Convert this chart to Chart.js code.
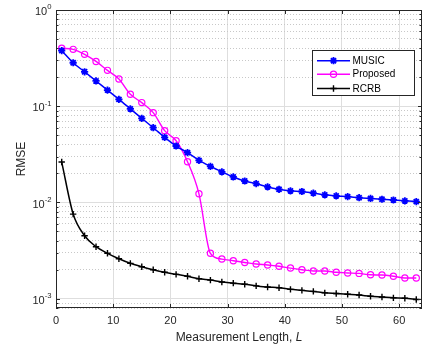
<!DOCTYPE html>
<html><head><meta charset="utf-8">
<script src="https://cdn.jsdelivr.net/npm/chart.js@4/dist/chart.umd.min.js"></script>
<style>html,body{margin:0;padding:0;background:#fff;}canvas{display:block}</style>
</head><body>
<canvas id="c" width="437" height="349"></canvas>
<script>
const L = [1,3,5,7,9,11,13,15,17,19,21,23,25,27,29,31,33,35,37,39,41,43,45,47,49,51,53,55,57,59,61,63];
const music = [0.378,0.283,0.228,0.183,0.147,0.118,0.094,0.0748,0.0598,0.0475,0.0386,0.0329,0.0274,0.0237,0.0208,0.0184,0.0167,0.0157,0.0145,0.0137,0.0132,0.0130,0.0125,0.0120,0.0117,0.0115,0.0112,0.0110,0.0108,0.0106,0.0104,0.0102];
const proposed = [0.40,0.39,0.346,0.292,0.236,0.192,0.133,0.109,0.0857,0.0557,0.0438,0.0265,0.0123,0.00296,0.00258,0.00248,0.00238,0.00229,0.00224,0.00217,0.00208,0.00200,0.00194,0.00194,0.00188,0.00185,0.00183,0.00177,0.00176,0.00171,0.00164,0.00164];
const rcrb = [0.0263,0.00757,0.00451,0.00347,0.00296,0.0026,0.00233,0.00215,0.0020,0.00188,0.00179,0.00171,0.00161,0.00156,0.00149,0.00145,0.00141,0.00136,0.00132,0.0013,0.00125,0.00122,0.00119,0.00115,0.00113,0.00111,0.00109,0.00106,0.00104,0.00102,0.00101,0.00098];
const seriesNames = ['MUSIC','Proposed','RCRB'];
const xTickValues = [0,10,20,30,40,50,60];
const yDecadeExponents = [0,-1,-2,-3];
const xTitleMain = 'Measurement Length, ';
const xTitleVar = 'L';
const yTitle = 'RMSE';

const AX = '#262626';
const FONT = '"Liberation Sans", Arial, Helvetica, sans-serif';
const isDecade = v => Math.abs(Math.log10(v) - Math.round(Math.log10(v))) < 1e-6;

function pts(arr){ return L.map((l,i)=>({x:l,y:arr[i]})); }

const decor = {
  id:'decor',
  afterDatasetsDraw(chart){
    const {ctx, chartArea:a, scales:{x,y}} = chart;
    ctx.save();
    // box
    ctx.strokeStyle = AX; ctx.lineWidth = 1;
    ctx.strokeRect(a.left+0.5, a.top+0.5, a.right-a.left-1, a.bottom-a.top-1);
    ctx.beginPath();
    xTickValues.forEach(v=>{
      const px = Math.round(x.getPixelForValue(v))+0.5;
      ctx.moveTo(px,a.bottom); ctx.lineTo(px,a.bottom-4);
      ctx.moveTo(px,a.top); ctx.lineTo(px,a.top+4);
    });
    y.ticks.forEach(t=>{
      const py = Math.round(y.getPixelForValue(t.value))+0.5;
      const len = isDecade(t.value)?4:2.5;
      ctx.moveTo(a.left,py); ctx.lineTo(a.left+len,py);
      ctx.moveTo(a.right,py); ctx.lineTo(a.right-len,py);
    });
    ctx.stroke();
    // y tick labels with superscripts
    ctx.fillStyle = AX;
    ctx.textBaseline = 'middle';
    ctx.textAlign = 'left';
    yDecadeExponents.forEach(e=>{
      const py = y.getPixelForValue(Math.pow(10,e));
      const expStr = String(e);
      ctx.font = '7.7px '+FONT;
      const ew = ctx.measureText(expStr).width;
      ctx.font = '11px '+FONT;
      const bw = ctx.measureText('10').width;
      const xEnd = a.left - 4.5;
      ctx.fillText('10', xEnd-ew-bw, py+2.2);
      ctx.font = '7.7px '+FONT;
      ctx.fillText(expStr, xEnd-ew, py-2.8);
    });
    // x title
    ctx.font = '12px '+FONT;
    const w1 = ctx.measureText(xTitleMain).width;
    ctx.font = 'italic 12px '+FONT;
    const w2 = ctx.measureText(xTitleVar).width;
    const cx = (a.left+a.right)/2;
    let sx = cx-(w1+w2)/2;
    ctx.font = '12px '+FONT;
    ctx.fillText(xTitleMain, sx, 337.5);
    ctx.font = 'italic 12px '+FONT;
    ctx.fillText(xTitleVar, sx+w1, 337.5);
    // legend
    const lx=312.5, ly=50.5, lw=102, lh=45;
    ctx.fillStyle='#fff'; ctx.fillRect(lx,ly,lw,lh);
    ctx.strokeStyle=AX; ctx.lineWidth=1; ctx.strokeRect(lx,ly,lw,lh);
    const rows=[60.7,74.2,88.5];
    chart.data.datasets.forEach((ds,i)=>{
      const yy=rows[i];
      ctx.strokeStyle=ds.borderColor; ctx.lineWidth=ds.borderWidth;
      ctx.beginPath(); ctx.moveTo(317,yy); ctx.lineTo(350,yy); ctx.stroke();
      ctx.strokeStyle=ds.pointBorderColor; ctx.fillStyle=ds.pointBackgroundColor;
      ctx.lineWidth=ds.pointBorderWidth;
      Chart.helpers.drawPoint(ctx,{pointStyle:ds.pointStyle,radius:ds.pointRadius,borderWidth:ds.pointBorderWidth,rotation:0},333.5,yy);
      ctx.fillStyle='#000';
      ctx.font='10px '+FONT; ctx.textAlign='left'; ctx.textBaseline='middle';
      ctx.fillText(seriesNames[i],352.5,yy+0.5);
    });
    ctx.restore();
  }
};

new Chart(document.getElementById('c'),{
  type:'line',
  data:{datasets:[
    {label:seriesNames[0],data:pts(music),borderColor:'#0000ff',borderWidth:1.5,pointStyle:'star',pointRadius:3.6,pointBorderWidth:1.8,pointBorderColor:'#0000ff',pointBackgroundColor:'#0000ff',cubicInterpolationMode:'monotone'},
    {label:seriesNames[1],data:pts(proposed),borderColor:'#ff00ff',borderWidth:1.4,pointStyle:'circle',pointRadius:3.1,pointBorderWidth:1.2,pointBorderColor:'#ff00ff',pointBackgroundColor:'rgba(0,0,0,0)',cubicInterpolationMode:'monotone'},
    {label:seriesNames[2],data:pts(rcrb),borderColor:'#000000',borderWidth:1.5,pointStyle:'cross',pointRadius:3.2,pointBorderWidth:1.4,pointBorderColor:'#000000',pointBackgroundColor:'#000000',cubicInterpolationMode:'monotone'}
  ]},
  options:{
    responsive:false, devicePixelRatio:1, animation:false,
    layout:{padding:{top:10,right:15,left:0,bottom:0}},
    plugins:{legend:{display:false},tooltip:{enabled:false}},
    scales:{
      x:{type:'linear',min:0,max:64,
        afterBuildTicks:s=>{s.ticks = xTickValues.map(v=>({value:v}));},
        afterFit:s=>{s.height=41;},
        ticks:{autoSkip:false,padding:6,color:AX,font:{family:FONT,size:11},maxRotation:0},
        grid:{drawTicks:false,color:'#dedede',lineWidth:1},
        border:{display:false}
      },
      y:{type:'logarithmic',min:0.0008,max:1,
        afterBuildTicks:s=>{
          const t=[];
          for(let e=-4;e<=0;e++){for(let m=1;m<=9;m++){const v=m*Math.pow(10,e);if(v>=0.0008*0.9999&&v<=1.0001)t.push({value:v});}}
          s.ticks=t;
        },
        afterFit:s=>{s.width=56;},
        ticks:{display:false,autoSkip:false},
        title:{display:true,text:yTitle,color:AX,font:{family:FONT,size:12},padding:{top:14,bottom:0}},
        grid:{drawTicks:false,lineWidth:1,
          color:c=>(c.tick && isDecade(c.tick.value))?'#dedede':'#c8c8c8'},
        border:{display:false,dash:c=>(c.tick && !isDecade(c.tick.value))?[1,2]:[]}
      }
    }
  },
  plugins:[decor]
});
</script>
</body></html>
